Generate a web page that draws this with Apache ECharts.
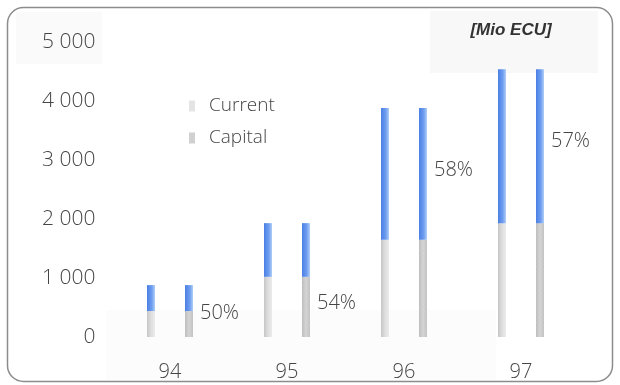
<!DOCTYPE html>
<html>
<head>
<meta charset="utf-8">
<script src="https://cdn.jsdelivr.net/npm/echarts@6/dist/echarts.min.js"></script>
<style>
  html, body { margin: 0; padding: 0; background: #ffffff; }
  #chart { width: 620px; height: 385px; }
</style>
</head>
<body>
<div id="chart"></div>
<script>
// Years on the category axis
const years = ['94', '95', '96', '97'];
// Lower (grey) part of each column, Mio ECU
const baseValues = [440, 1020, 1650, 1930];
// Upper (blue) part of each column, Mio ECU
const topValues = [440, 910, 2230, 2610];
// Share labels printed beside the second column of each year
const shareLabels = ['50%', '54%', '58%', '57%'];
// Value axis ticks
const yTicks = [0, 1000, 2000, 3000, 4000, 5000];

const FONT = '"Open Sans", "DejaVu Sans", sans-serif';
const TEXT = '#454545';

const chart = echarts.init(document.getElementById('chart'), null, { renderer: 'canvas' });

const blueFill = new echarts.graphic.LinearGradient(0, 0, 1, 0, [
  { offset: 0, color: '#4a7fe4' },
  { offset: 0.6, color: '#6f9ef0' },
  { offset: 1, color: '#b0cff6' }
]);
const greyFillA = new echarts.graphic.LinearGradient(0, 0, 1, 0, [
  { offset: 0, color: '#c6c6c6' },
  { offset: 0.5, color: '#dedede' },
  { offset: 1, color: '#ebebeb' }
]);
const greyFillB = new echarts.graphic.LinearGradient(0, 0, 1, 0, [
  { offset: 0, color: '#bfbfbf' },
  { offset: 0.5, color: '#d6d6d6' },
  { offset: 1, color: '#c4c4c4' }
]);

// Where each share label sits: which segment of the second column carries it,
// and a small vertical nudge in pixels
const labelPlacement = [
  { onTop: false, dy: -11 },
  { onTop: false, dy: -4 },
  { onTop: true, dy: -4 },
  { onTop: true, dy: -5 }
];

function labelled(values, onTop) {
  return values.map((v, i) => {
    const p = labelPlacement[i];
    if (p.onTop !== onTop) return v;
    return {
      value: v,
      label: {
        show: true,
        position: 'right',
        distance: 7,
        offset: [0, p.dy],
        formatter: shareLabels[i],
        fontFamily: FONT,
        fontWeight: 300,
        fontSize: 20,
        color: TEXT
      }
    };
  });
}

const option = {
  animation: false,
  backgroundColor: '#ffffff',
  graphic: [
    { type: 'rect', silent: true, z: -10,
      shape: { x: 16, y: 12, width: 86, height: 52 },
      style: { fill: '#fafafa' } },
    { type: 'rect', silent: true, z: -10,
      shape: { x: 430, y: 11, width: 168, height: 62 },
      style: { fill: '#f8f8f8' } },
    { type: 'rect', silent: true, z: -10,
      shape: { x: 106, y: 310, width: 390, height: 70 },
      style: { fill: '#fcfcfc' } },
    { type: 'rect', silent: true, z: 100,
      shape: { x: 7.5, y: 7.5, width: 605, height: 374, r: 16 },
      style: { fill: 'none', stroke: '#8c8c8c', lineWidth: 1.5 } },
    { type: 'text', silent: true, z: 50,
      x: 511, y: 30,
      style: {
        text: '[Mio ECU]',
        fontFamily: '"Liberation Sans", Arial, sans-serif',
        fontStyle: 'italic',
        fontWeight: 'bold',
        fontSize: 17,
        fill: '#333333',
        align: 'center',
        verticalAlign: 'middle'
      } }
  ],
  legend: {
    orient: 'vertical',
    left: 184,
    top: 91,
    itemWidth: 6,
    itemHeight: 11,
    itemGap: 12,
    icon: 'rect',
    data: [
      { name: 'Current', itemStyle: { color: '#e4e4e4' } },
      { name: 'Capital', itemStyle: { color: '#d2d2d2' } }
    ],
    textStyle: {
      fontFamily: FONT,
      fontWeight: 300,
      fontSize: 19,
      color: TEXT,
      lineHeight: 20,
      padding: [0, 0, 0, 9]
    }
  },
  grid: { left: 111.5, right: 40.5, top: 42, bottom: 48, containLabel: false },
  xAxis: {
    type: 'category',
    data: years,
    axisLine: { show: false },
    axisTick: { show: false },
    axisLabel: {
      margin: 25,
      fontFamily: FONT,
      fontWeight: 300,
      fontSize: 20,
      color: TEXT
    }
  },
  yAxis: {
    type: 'value',
    min: yTicks[0],
    max: yTicks[yTicks.length - 1],
    interval: yTicks[1] - yTicks[0],
    axisLine: { show: false },
    axisTick: { show: false },
    splitLine: { show: false },
    axisLabel: {
      margin: 16,
      fontFamily: FONT,
      fontWeight: 300,
      fontSize: 21,
      color: TEXT,
      formatter: v => v >= 1000 ? Math.floor(v / 1000) + ' ' + String(v % 1000).padStart(3, '0') : String(v)
    }
  },
  series: [
    { name: 'Current', type: 'bar', stack: 'current', barWidth: 8, barGap: '375%',
      data: baseValues, itemStyle: { color: greyFillA } },
    { name: 'Current top', type: 'bar', stack: 'current', barWidth: 8, barGap: '375%',
      data: topValues, itemStyle: { color: blueFill } },
    { name: 'Capital', type: 'bar', stack: 'capital', barWidth: 8, barGap: '375%',
      data: labelled(baseValues, false),
      itemStyle: {
        color: greyFillB,
        decal: { symbol: 'rect', symbolSize: 0.5, dashArrayX: [1, 0], dashArrayY: [1, 2], rotation: 0.8, color: 'rgba(150,150,150,0.3)' }
      } },
    { name: 'Capital top', type: 'bar', stack: 'capital', barWidth: 8, barGap: '375%',
      data: labelled(topValues, true), itemStyle: { color: blueFill } }
  ]
};

chart.setOption(option);
</script>
</body>
</html>
